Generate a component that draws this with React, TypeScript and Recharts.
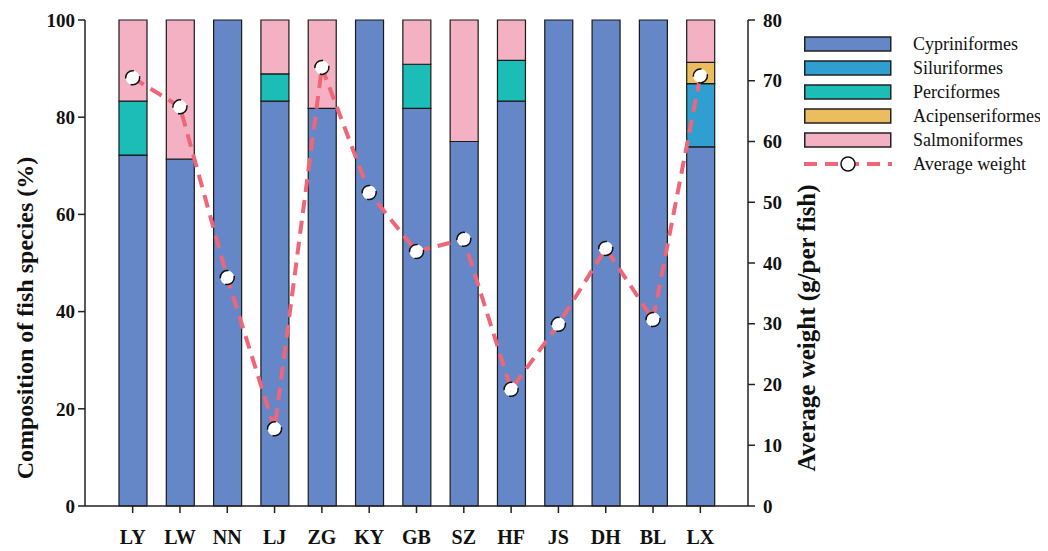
import React from 'react';
import { ComposedChart, Bar, Line, XAxis, YAxis, Legend } from 'recharts';

const categories = ['LY', 'LW', 'NN', 'LJ', 'ZG', 'KY', 'GB', 'SZ', 'HF', 'JS', 'DH', 'BL', 'LX'];
const cypriniformes = [72.2, 71.4, 100, 83.3, 81.8, 100, 81.8, 75.0, 83.3, 100, 100, 100, 73.9];
const siluriformes = [0, 0, 0, 0, 0, 0, 0, 0, 0, 0, 0, 0, 13.0];
const perciformes = [11.1, 0, 0, 5.6, 0, 0, 9.1, 0, 8.4, 0, 0, 0, 0];
const acipenseriformes = [0, 0, 0, 0, 0, 0, 0, 0, 0, 0, 0, 0, 4.4];
const salmoniformes = [16.7, 28.6, 0, 11.1, 18.2, 0, 9.1, 25.0, 8.3, 0, 0, 0, 8.7];
const averageWeight = [70.5, 65.7, 37.6, 12.7, 72.2, 51.6, 41.9, 43.9, 19.2, 29.9, 42.4, 30.7, 70.8];

const leftTicks = [0, 20, 40, 60, 80, 100];
const rightTicks = [0, 10, 20, 30, 40, 50, 60, 70, 80];

const seriesKeys = ['Cypriniformes', 'Siluriformes', 'Perciformes', 'Acipenseriformes', 'Salmoniformes'];
const seriesValues = [cypriniformes, siluriformes, perciformes, acipenseriformes, salmoniformes];
const seriesColors = ['#6587c8', '#2e9fd0', '#1bbdb6', '#ecbd5e', '#f4b1c3'];
const lineName = 'Average weight';
const lineColor = '#ee6677';

const data = categories.map((c, i) => {
  const row: any = { name: c, weight: averageWeight[i] };
  seriesKeys.forEach((k, j) => {
    row[k] = seriesValues[j][i];
  });
  return row;
});

const FONT = "'Times New Roman', 'Liberation Serif', serif";

const LegendContent = () => (
  <div style={{ fontFamily: FONT, fontSize: 18, color: '#111' }}>
    {seriesKeys.map((k, j) => (
      <div key={k} style={{ display: 'flex', alignItems: 'center', height: 24 }}>
        <svg width={88} height={16} style={{ display: 'block' }}>
          <rect x={0.75} y={1} width={86} height={14} fill={seriesColors[j]} stroke="#222" strokeWidth={1.5} />
        </svg>
        <span style={{ marginLeft: 21, lineHeight: '24px' }}>{k}</span>
      </div>
    ))}
    <div style={{ display: 'flex', alignItems: 'center', height: 24 }}>
      <svg width={88} height={18} style={{ display: 'block' }}>
        <line x1={0} y1={9} x2={88} y2={9} stroke={lineColor} strokeWidth={4} strokeDasharray="13 8" />
        <circle cx={44} cy={9} r={7} fill="#fff" stroke="#111" strokeWidth={1.5} />
      </svg>
      <span style={{ marginLeft: 21, lineHeight: '24px' }}>{lineName}</span>
    </div>
  </div>
);

const tickStyle = { fontFamily: FONT, fontSize: 19, fontWeight: 700, fill: '#111' };

export default function App() {
  return (
    <div style={{ width: 1040, height: 543 }}>
      <ComposedChart
        width={1040}
        height={543}
        data={data}
        margin={{ top: 12, right: 220, bottom: 0, left: 0 }}
        barSize={28}
      >
        <XAxis
          dataKey="name"
          padding={{ left: 24, right: 24 }}
          tick={{ ...tickStyle, fontSize: 20 }}
          tickSize={7}
          tickMargin={17}
          height={45}
          axisLine={{ stroke: '#222', strokeWidth: 1.5 }}
          tickLine={{ stroke: '#222', strokeWidth: 1.5 }}
          interval={0}
        />
        <YAxis
          yAxisId="left"
          domain={[0, 100]}
          ticks={leftTicks}
          width={77}
          tick={tickStyle}
          tickSize={7}
          tickMargin={3}
          axisLine={{ stroke: '#222', strokeWidth: 1.5 }}
          tickLine={{ stroke: '#222', strokeWidth: 1.5 }}
          label={(props: any) => (
            <text
              transform={`translate(17, 310) rotate(-90)`}
              textAnchor="middle"
              dominantBaseline="central"
              style={{ fontFamily: FONT, fontSize: 24, fontWeight: 700, fill: '#111' }}
            >
              Composition of fish species (%)
            </text>
          )}
        />
        <YAxis
          yAxisId="right"
          orientation="right"
          domain={[0, 80]}
          ticks={rightTicks}
          width={80}
          tick={{ ...tickStyle, textAnchor: 'start' }}
          tickSize={7}
          tickMargin={8}
          axisLine={{ stroke: '#222', strokeWidth: 1.5 }}
          tickLine={{ stroke: '#222', strokeWidth: 1.5 }}
          label={(props: any) => (
            <text
              transform={`translate(798, 320) rotate(-90)`}
              textAnchor="middle"
              dominantBaseline="central"
              style={{ fontFamily: FONT, fontSize: 25, fontWeight: 700, fill: '#111' }}
            >
              Average weight (g/per fish)
            </text>
          )}
        />
        <Legend
          layout="vertical"
          align="center"
          verticalAlign="middle"
          content={<LegendContent />}
          wrapperStyle={{ position: 'absolute', left: 796, top: 24, width: 240 }}
        />
        {seriesKeys.map((k, j) => (
          <Bar
            key={k}
            dataKey={k}
            stackId="a"
            yAxisId="left"
            fill={seriesColors[j]}
            stroke="#1a1a1a"
            strokeWidth={1.2}
            isAnimationActive={false}
          />
        ))}
        <Line
          type="linear"
          dataKey="weight"
          name={lineName}
          yAxisId="right"
          stroke={lineColor}
          strokeWidth={4}
          strokeDasharray="13 8"
          dot={{ r: 7, fill: '#fff', stroke: '#111', strokeWidth: 1.5 }}
          isAnimationActive={false}
        />
      </ComposedChart>
    </div>
  );
}
